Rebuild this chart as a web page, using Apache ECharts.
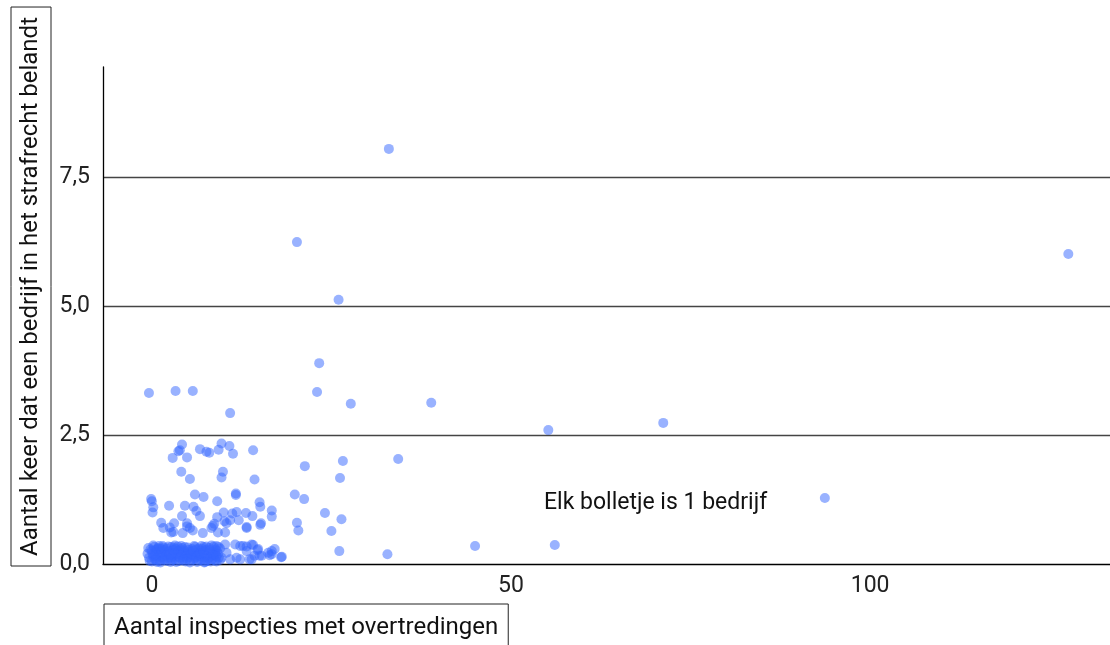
<!DOCTYPE html>
<html>
<head>
<meta charset="utf-8">
<script src="https://cdn.jsdelivr.net/npm/echarts@6/dist/echarts.min.js"></script>
<style>
  html, body { margin: 0; padding: 0; background: #fff; }
  #chart { width: 1110px; height: 645px; }
</style>
</head>
<body>
<div id="chart"></div>
<script>
// Axis titles and annotation
const xTitle = 'Aantal inspecties met overtredingen';
const yTitle = 'Aantal keer dat een bedrijf in het strafrecht belandt';
const note = 'Elk bolletje is 1 bedrijf';

// Companies with (almost) no criminal cases: dense band near zero
const bandPoints = [
  [-0.4,0.12],[-0.2,0.28],[0.0,0.05],[0.1,0.19],[0.3,0.33],[0.4,0.09],[0.6,0.24],[0.8,0.15],
  [0.9,0.31],[1.1,0.06],[1.2,0.22],[1.4,0.13],[1.5,0.35],[1.7,0.27],[1.8,0.08],[2.0,0.18],
  [2.1,0.30],[2.3,0.11],[2.4,0.25],[2.6,0.04],[2.7,0.33],[2.9,0.16],[3.0,0.21],[3.2,0.09],
  [3.3,0.29],[3.5,0.14],[3.6,0.34],[3.8,0.06],[3.9,0.23],[4.1,0.18],[4.2,0.31],[4.4,0.10],
  [4.5,0.26],[4.7,0.05],[4.8,0.20],[5.0,0.32],[5.1,0.13],[5.3,0.24],[5.4,0.07],[5.6,0.29],
  [5.7,0.17],[5.9,0.35],[6.0,0.11],[6.2,0.22],[6.3,0.04],[6.5,0.30],[6.6,0.15],[6.8,0.26],
  [6.9,0.08],[7.1,0.19],[7.2,0.33],[7.4,0.12],[7.5,0.27],[7.7,0.06],[7.8,0.21],[8.0,0.31],
  [8.1,0.14],[8.3,0.24],[8.4,0.09],[8.6,0.34],[8.7,0.17],[8.9,0.28],[9.0,0.05],[9.2,0.20],
  [9.3,0.12],[9.5,0.30],[0.2,0.15],[0.5,0.27],[1.0,0.20],[1.6,0.10],[2.2,0.23],[2.8,0.07],
  [3.4,0.19],[4.0,0.28],[4.6,0.14],[5.2,0.21],[5.8,0.09],[6.4,0.18],[7.0,0.29],[7.6,0.16],
  [8.2,0.05],[8.8,0.22],[0.7,0.04],[1.3,0.29],[3.1,0.32],[4.3,0.07],[6.1,0.28],[7.3,0.03],
  [9.1,0.25],[9.0,0.35],[9.7,0.12],[10.2,0.38],[10.4,0.22],[10.9,0.09],[11.6,0.38],[11.8,0.12],
  [12.3,0.35],[12.3,0.09],[12.7,0.35],[13.2,0.25],[13.2,0.34],[13.6,0.09],[13.9,0.38],[13.9,0.09],
  [14.1,0.37],[14.3,0.16],[14.7,0.27],[14.8,0.29],[15.0,0.16],[15.3,0.16],[16.2,0.22],[16.4,0.17],
  [16.7,0.19],[16.7,0.25],[17.1,0.29],[18.0,0.13],[18.1,0.14],
  [-0.6,0.20],[-0.5,0.31],[-0.3,0.06],[0.0,0.25],[0.2,0.36],[0.4,0.17],[0.6,0.08],[0.8,0.29],
  [1.0,0.35],[1.2,0.03],[1.4,0.24],[1.6,0.32],[1.9,0.16],[2.1,0.06],[2.3,0.34],[2.5,0.19],
  [2.7,0.12],[3.0,0.27],[3.2,0.36],[3.4,0.04],[3.7,0.25],[3.9,0.12],[4.1,0.35],[4.4,0.22],
  [4.6,0.33],[4.9,0.10],[5.1,0.27],[5.3,0.03],[5.5,0.19],[5.8,0.25],[6.0,0.33],[6.2,0.14],
  [6.5,0.07],[6.7,0.21],[6.9,0.35],[7.2,0.24],[7.4,0.04],[7.6,0.34],[7.9,0.11],[8.1,0.27],
  [8.3,0.36],[8.5,0.18],[8.8,0.07],[9.0,0.15],[9.3,0.33],[9.5,0.08]
];

// Companies with roughly 0.5 to 2.5 criminal cases
const midPoints = [
  [4.2,2.32],[3.9,2.21],[3.7,2.19],[2.9,2.06],[4.9,2.07],[6.7,2.23],[7.6,2.18],[8.0,2.16],
  [9.3,2.22],[9.7,2.34],[10.8,2.29],[11.3,2.14],[14.1,2.21],[21.3,1.90],[4.1,1.79],[5.3,1.65],
  [9.9,1.79],[9.7,1.68],[14.3,1.64],[6.0,1.35],[7.2,1.30],[11.7,1.37],[11.7,1.34],[9.1,1.22],
  [-0.1,1.26],[0.0,1.22],[0.2,1.10],[0.1,1.00],[2.4,1.13],[4.6,1.13],[5.8,1.11],[6.2,1.03],
  [6.7,0.93],[1.3,0.80],[2.5,0.71],[3.1,0.79],[3.0,0.62],[2.7,0.61],[4.2,0.93],[4.9,0.79],
  [4.9,0.73],[4.3,0.60],[5.7,0.65],[7.1,0.60],[8.5,0.74],[9.1,0.91],[8.7,0.78],[9.2,0.61],
  [10.2,0.61],[10.1,0.83],[10.0,1.00],[10.4,0.79],[11.2,0.98],[10.9,0.85],[11.8,1.01],[12.1,0.85],
  [13.1,0.99],[13.2,0.72],[14.0,0.93],[15.0,1.20],[15.1,1.11],[15.2,0.79],[15.1,0.76],[16.7,1.04],
  [16.7,0.92],[19.9,1.35],[21.2,1.26],[20.2,0.80],[20.4,0.65],[1.6,0.70],[5.3,0.70],[8.3,0.70],
  [13.2,0.70],[26.2,1.67],[24.1,0.99],[26.4,0.87],[25.0,0.64],[26.1,0.25],[32.8,0.19],[45.0,0.35],
  [56.1,0.37],[93.7,1.28]
];

// Companies with many criminal cases
const highPoints = [
  [33.0,8.06],[20.2,6.25],[127.6,6.02],[26.0,5.13],[23.3,3.90],[23.0,3.34],[27.7,3.11],[38.9,3.13],
  [-0.4,3.32],[3.3,3.36],[5.7,3.36],[10.9,2.93],[55.2,2.60],[71.2,2.74],[34.3,2.04],[26.6,2.00]
];

const allPoints = bandPoints.concat(midPoints, highPoints);

const chart = echarts.init(document.getElementById('chart'), null, { renderer: 'canvas' });
const FONT = 'Roboto, "Noto Sans", sans-serif';

chart.setOption({
  animation: false,
  backgroundColor: '#ffffff',
  textStyle: { fontFamily: FONT },
  grid: { left: 103, top: 67, right: 0, bottom: 81, containLabel: false },
  xAxis: {
    type: 'value',
    min: -6.8,
    max: 133.4,
    splitNumber: 3,
    axisLine: { show: true, onZero: false, lineStyle: { color: '#000', width: 1.3 } },
    axisTick: { show: false },
    splitLine: { show: false },
    axisLabel: {
      color: '#222', fontSize: 23, fontFamily: FONT, margin: 11,
      showMinLabel: false, showMaxLabel: false,
      formatter: function (v) { return (Math.abs(v % 50) < 1e-9) ? String(v) : ''; }
    }
  },
  yAxis: {
    type: 'value',
    min: 0,
    max: 9.65,
    interval: 2.5,
    axisLine: { show: true, onZero: false, lineStyle: { color: '#000', width: 1.3 } },
    axisTick: { show: false },
    splitLine: { show: true, showMinLine: false, showMaxLine: false, lineStyle: { color: '#444', width: 1.3 } },
    axisLabel: {
      color: '#222', fontSize: 23, fontFamily: FONT, margin: 13,
      showMaxLabel: false,
      formatter: function (v) { return v.toFixed(1).replace('.', ','); }
    }
  },
  series: [{
    type: 'scatter',
    data: allPoints,
    symbolSize: 10,
    itemStyle: { color: '#3366ff', opacity: 0.5 },
    emphasis: { disabled: true }
  }],
  graphic: [
    {
      type: 'text',
      x: 31, y: 566,
      rotation: Math.PI / 2,
      style: {
        text: yTitle,
        font: '24px ' + FONT,
        fill: '#111',
        textAlign: 'left',
        textVerticalAlign: 'middle',
        borderColor: '#222',
        borderWidth: 1,
        padding: [8, 10, 8, 10]
      }
    },
    {
      type: 'text',
      x: 104, y: 628,
      style: {
        text: xTitle,
        font: '24px ' + FONT,
        fill: '#111',
        textAlign: 'left',
        textVerticalAlign: 'middle',
        borderColor: '#222',
        borderWidth: 1,
        padding: [12, 10, 12, 10]
      }
    },
    {
      type: 'text',
      x: 544, y: 503,
      style: {
        text: note,
        font: '23px ' + FONT,
        fill: '#111',
        textAlign: 'left',
        textVerticalAlign: 'middle'
      }
    }
  ]
});
</script>
</body>
</html>
